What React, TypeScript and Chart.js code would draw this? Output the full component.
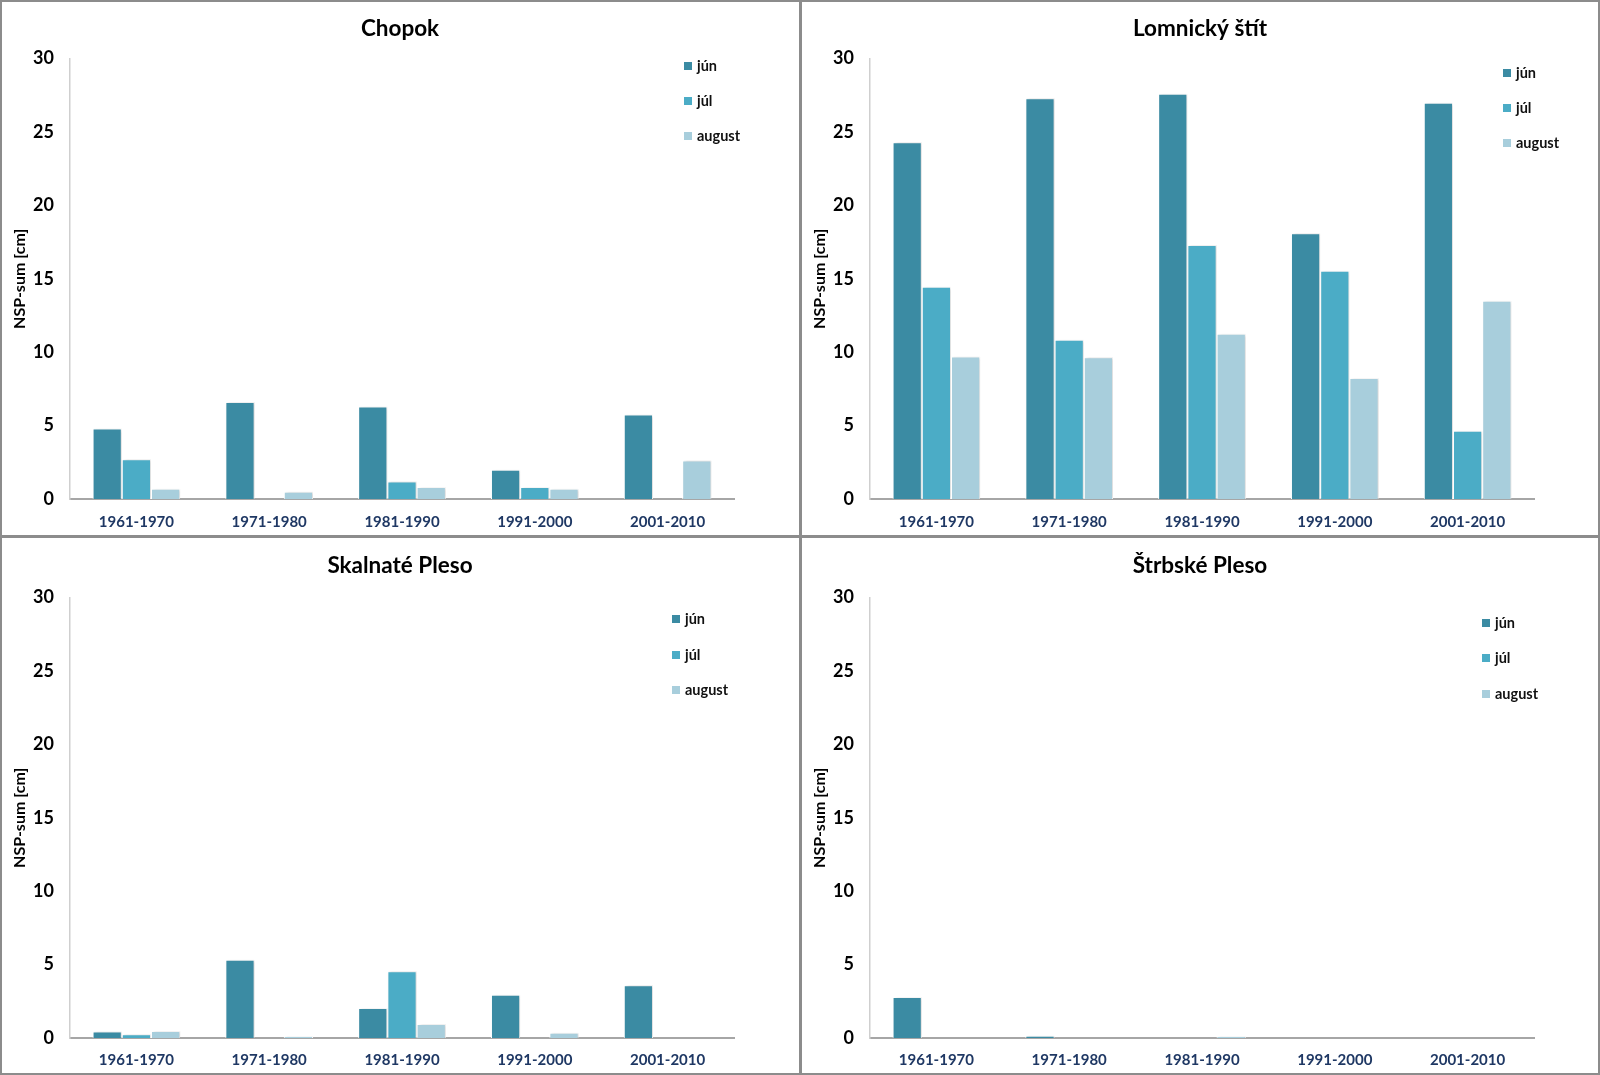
import React, { useEffect, useRef } from 'react';
import { Chart, registerables } from 'chart.js';

Chart.register(...registerables);

// ---------- DATA ----------
const categories = ['1961-1970', '1971-1980', '1981-1990', '1991-2000', '2001-2010'];
const seriesNames = ['jún', 'júl', 'august'];
const yTicks = [0, 5, 10, 15, 20, 25, 30];
const yTitle = 'NSP-sum [cm]';

const chopokJun = [4.8, 6.6, 6.3, 2.0, 5.75];
const chopokJul = [2.7, 0, 1.2, 0.82, 0];
const chopokAug = [0.7, 0.5, 0.82, 0.7, 2.63];

const lomnickyJun = [24.3, 27.3, 27.6, 18.1, 27.0];
const lomnickyJul = [14.45, 10.85, 17.3, 15.55, 4.65];
const lomnickyAug = [9.7, 9.65, 11.25, 8.25, 13.5];

const skalnateJun = [0.45, 5.33, 2.05, 2.95, 3.6];
const skalnateJul = [0.26, 0, 4.55, 0, 0];
const skalnateAug = [0.47, 0.12, 0.95, 0.35, 0];

const strbskeJun = [2.8, 0.15, 0, 0, 0];
const strbskeJul = [0, 0, 0, 0, 0];
const strbskeAug = [0, 0, 0.12, 0, 0];

// ---------- STYLE ----------
const FONT = 'Lato, "Open Sans", "Noto Sans", sans-serif';
const COLORS = ['#3B8BA3', '#4BACC6', '#A8CEDC'];

type PanelCfg = {
  title: string;
  values: number[][];
  left: number;
  top: number;
  height: number;
  titlePad: [number, number];
  xPad: number;
  legendX: number;
  legendY: number[];
};

const panels: PanelCfg[] = [
  { title: 'Chopok', values: [chopokJun, chopokJul, chopokAug], left: 0, top: 0, height: 536, titlePad: [15, 16.6], xPad: 14, legendX: 684, legendY: [66, 101, 136] },
  { title: 'Lomnický štít', values: [lomnickyJun, lomnickyJul, lomnickyAug], left: 800, top: 0, height: 536, titlePad: [15, 16.6], xPad: 14, legendX: 703, legendY: [73, 108, 143] },
  { title: 'Skalnaté Pleso', values: [skalnateJun, skalnateJul, skalnateAug], left: 0, top: 536, height: 539, titlePad: [16, 18.6], xPad: 13, legendX: 672, legendY: [83, 119, 154] },
  { title: 'Štrbské Pleso', values: [strbskeJun, strbskeJul, strbskeAug], left: 800, top: 536, height: 539, titlePad: [16, 18.6], xPad: 13, legendX: 682, legendY: [87, 122, 158] },
];

function PanelChart({ cfg }: { cfg: PanelCfg }) {
  const ref = useRef<HTMLCanvasElement | null>(null);
  useEffect(() => {
    if (!ref.current) return;
    const legendPlugin = {
      id: 'customLegend',
      afterDraw(chart: any) {
        const ctx = chart.ctx;
        ctx.save();
        chart.data.datasets.forEach((ds: any, i: number) => {
          const y = cfg.legendY[i];
          ctx.fillStyle = ds.backgroundColor;
          ctx.fillRect(cfg.legendX, y - 4, 8, 8);
          ctx.fillStyle = '#111';
          ctx.font = `bold 14.5px ${FONT}`;
          ctx.textBaseline = 'middle';
          ctx.textAlign = 'left';
          ctx.fillText(ds.label, cfg.legendX + 13, y);
        });
        ctx.restore();
      },
    };
    const shadowPlugin = {
      id: 'barShadow',
      beforeDatasetsDraw(chart: any) {
        const ctx = chart.ctx;
        ctx.save();
        ctx.shadowColor = 'rgba(0,0,0,0.16)';
        ctx.shadowBlur = 3;
        ctx.shadowOffsetX = 2;
        ctx.shadowOffsetY = 0;
      },
      afterDatasetsDraw(chart: any) {
        chart.ctx.restore();
      },
    };
    const chart = new Chart(ref.current, {
      type: 'bar',
      data: {
        labels: categories,
        datasets: seriesNames.map((name, i) => ({
          label: name,
          data: cfg.values[i],
          backgroundColor: COLORS[i],
          borderColor: '#ffffff',
          borderWidth: 1,
          categoryPercentage: 0.66,
          barPercentage: 1,
          yAxisID: 'y',
        })),
      },
      options: {
        responsive: false,
        animation: false,
        layout: { padding: 0 },
        plugins: {
          legend: { display: false },
          tooltip: { enabled: false },
          title: {
            display: true,
            text: cfg.title,
            color: '#000',
            font: { family: FONT, size: 22.5, weight: 'bold' },
            padding: { top: cfg.titlePad[0], bottom: cfg.titlePad[1] },
          },
        },
        scales: {
          x: {
            grid: { display: false, drawTicks: false },
            border: { display: true, color: '#A6A6A6', width: 2 },
            ticks: { color: '#1F3864', font: { family: FONT, size: 15, weight: 'bold' }, padding: cfg.xPad, maxRotation: 0 },
            afterFit: (s: any) => { s.height = 37; },
          },
          y: {
            position: 'left',
            min: 0,
            max: 30,
            grid: { display: false, drawTicks: false },
            border: { display: true, color: '#CFCFCF', width: 1.5 },
            ticks: { color: '#000', font: { family: FONT, size: 18, weight: 'bold' }, padding: 16 },
            afterBuildTicks: (s: any) => { s.ticks = yTicks.map((v) => ({ value: v })); },
            title: { display: true, text: yTitle, color: '#000', font: { family: FONT, size: 16, weight: 'bold' }, padding: { top: 10, bottom: 0 } },
            afterFit: (s: any) => { s.width = 70; },
          },
          yRightSpace: {
            position: 'right',
            min: 0,
            max: 30,
            grid: { display: false, drawTicks: false },
            border: { display: false },
            ticks: { display: false },
            afterFit: (s: any) => { s.width = 66; },
          },
        },
      } as any,
      plugins: [shadowPlugin, legendPlugin],
    });
    return () => chart.destroy();
  }, [cfg]);
  return (
    <canvas
      ref={ref}
      width={800}
      height={cfg.height}
      style={{ position: 'absolute', left: cfg.left, top: cfg.top, width: 800, height: cfg.height }}
    />
  );
}

export default function App() {
  return (
    <div style={{ position: 'absolute', left: 0, top: 0, width: 1600, height: 1075, background: '#fff', overflow: 'hidden' }}>
      {panels.map((p) => (
        <PanelChart key={p.title} cfg={p} />
      ))}
      <div style={{ position: 'absolute', left: 0, top: 0, width: 1600, height: 1075, border: '2px solid #8C8C8C', boxSizing: 'border-box', pointerEvents: 'none' }} />
      <div style={{ position: 'absolute', left: 798.5, top: 0, width: 3, height: 1075, background: '#8C8C8C' }} />
      <div style={{ position: 'absolute', left: 0, top: 534.5, width: 1600, height: 3, background: '#8C8C8C' }} />
    </div>
  );
}
